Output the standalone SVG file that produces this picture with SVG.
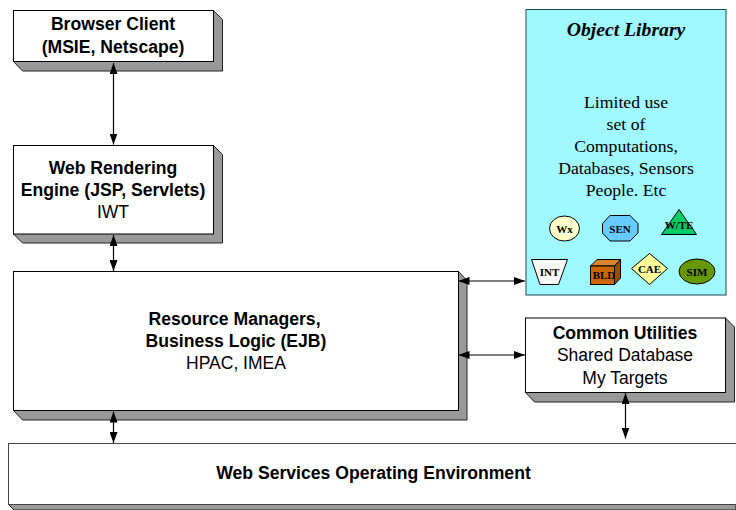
<svg xmlns="http://www.w3.org/2000/svg" width="736" height="510" viewBox="0 0 736 510">
<style>
.f{fill:#fff;stroke:#000;stroke-width:1}
.s{fill:#999;stroke:#222;stroke-width:1;stroke-linejoin:round}
.c{fill:none;stroke:#000;stroke-width:1.2}
.o{stroke:#000;stroke-width:1}
text{text-anchor:middle;fill:#000}
.b{font:bold 17.6px "Liberation Sans",Arial,sans-serif}
.r{font:17.5px "Liberation Sans",Arial,sans-serif}
.t{font:17.7px "Liberation Serif","Times New Roman",serif}
.ti{font:italic bold 19.7px "Liberation Serif","Times New Roman",serif}
.m{font:bold 11px "Liberation Serif","Times New Roman",serif}
</style>
<defs>
<marker id="a" viewBox="0 0 11 8" refX="11" refY="4" markerWidth="11" markerHeight="8" markerUnits="userSpaceOnUse" orient="auto-start-reverse"><path d="M0 0L11 4L0 8Z" fill="#000"/></marker>
</defs>
<rect width="736" height="510" fill="#fff"/>
<g id="browser-client">
<path class="s" d="M213.500 10.500L222.500 19.500V71H22.500L13.500 61.500Z"/>
<rect class="f" x="13.500" y="10.500" width="200" height="51"/>
<text class="b" x="113" y="29.500">Browser Client</text>
<text class="b" x="113" y="52.500">(MSIE, Netscape)</text>
</g>
<g id="web-rendering-engine">
<path class="s" d="M213.500 145.500L222.500 154.500V243H22.500L13.500 234Z"/>
<rect class="f" x="13.500" y="145.500" width="200" height="88.500"/>
<text class="b" x="113" y="174">Web Rendering</text>
<text class="b" x="113" y="195.500">Engine (JSP, Servlets)</text>
<text class="r" x="113" y="218">IWT</text>
</g>
<g id="resource-managers">
<path class="s" d="M458.500 271.500L467 280.500V420H22.500L13.500 410.500Z"/>
<rect class="f" x="13.500" y="271.500" width="445" height="139"/>
<text class="b" x="234.500" y="325">Resource Managers,</text>
<text class="b" x="236" y="347">Business Logic (EJB)</text>
<text class="r" x="236" y="369">HPAC, IMEA</text>
</g>
<g id="common-utilities">
<path class="s" d="M725.500 318L734.500 327V402H534.500L525.500 392.500Z"/>
<rect class="f" x="525.500" y="318" width="200" height="74.500"/>
<text class="b" x="625" y="338.500">Common Utilities</text>
<text class="r" x="625" y="361">Shared Database</text>
<text class="r" x="625" y="383.500">My Targets</text>
</g>
<g id="web-services">
<path class="s" d="M8.500 504.500L14 510H736V504.500Z"/>
<rect x="8.500" y="443.500" width="728" height="61" fill="#fff" stroke="#444"/>
<text class="b" x="373.500" y="479">Web Services Operating Environment</text>
</g>
<g id="object-library">
<rect x="526" y="9.500" width="200" height="285.500" fill="#a0f8ff" stroke="#1a4a50" stroke-width="1"/>
<text class="ti" x="626" y="36">Object Library</text>
<text class="t" x="626" y="108">Limited use</text>
<text class="t" x="626" y="130">set of</text>
<text class="t" x="626" y="152">Computations,</text>
<text class="t" x="626" y="174">Databases, Sensors</text>
<text class="t" x="626" y="196">People. Etc</text>
</g>
<g id="wx"><ellipse class="o" cx="564.500" cy="228.500" rx="15" ry="12.500" fill="#ffffcc"/><text class="m" x="564.500" y="232.500">Wx</text></g>
<g id="sen"><path class="o" d="M610 215.500H630L638 223.500V233L630 241H610L602.500 233V223.500Z" fill="#66ccff"/><text class="m" x="620" y="232.500">SEN</text></g>
<g id="wte"><path class="o" d="M679 209.500L696.500 234.500H661.500Z" fill="#00cc66"/><text class="m" x="679" y="229">W/TE</text></g>
<g id="int"><path class="o" d="M531.500 259.500H567.500L558.500 284.500H540Z" fill="#f8f8f8"/><text class="m" x="549.500" y="276">INT</text></g>
<g id="bld"><path class="o" d="M590.500 266L597 259.500H620.500L614.500 266Z" fill="#d98530"/><path class="o" d="M614.500 266L620.500 259.500V278L614.500 284.500Z" fill="#994c00"/><rect class="o" x="590.500" y="266" width="24" height="18.500" fill="#cc6600"/><text class="m" x="604" y="278.500">BLD</text></g>
<g id="cae"><path class="o" d="M649.500 253.500L667.500 268.500L649.500 284.500L631.500 268.500Z" fill="#ffff99"/><text class="m" x="649.500" y="273">CAE</text></g>
<g id="sim"><ellipse class="o" cx="697" cy="271.500" rx="18" ry="12.500" fill="#669900"/><text class="m" x="697" y="275.500">SIM</text></g>
<g id="connectors">
<line class="c" x1="113.500" y1="63" x2="113.500" y2="144.500" marker-start="url(#a)" marker-end="url(#a)"/>
<line class="c" x1="113.500" y1="235" x2="113.500" y2="271" marker-start="url(#a)" marker-end="url(#a)"/>
<line class="c" x1="113.500" y1="411.500" x2="113.500" y2="443" marker-start="url(#a)" marker-end="url(#a)"/>
<line class="c" x1="458.500" y1="281" x2="525" y2="281" marker-start="url(#a)" marker-end="url(#a)"/>
<line class="c" x1="458.500" y1="355" x2="525" y2="355" marker-start="url(#a)" marker-end="url(#a)"/>
<line class="c" x1="625.500" y1="393" x2="625.500" y2="438.500" marker-start="url(#a)" marker-end="url(#a)"/>
</g>
</svg>
